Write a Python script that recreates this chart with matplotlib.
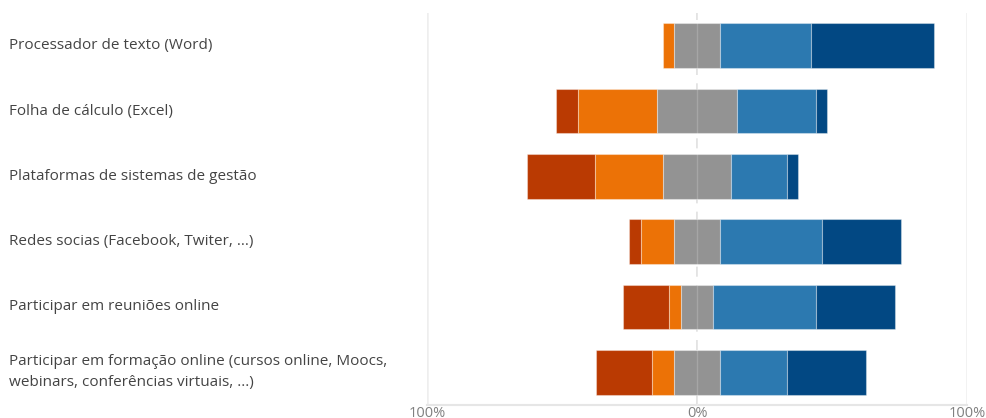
import numpy as np
import matplotlib.pyplot as plt
import matplotlib.transforms as mtransforms

plt.rcParams['font.family'] = ['Open Sans', 'DejaVu Sans']

# Categorias (de cima para baixo)
categorias = [
    'Processador de texto (Word)',
    'Folha de cálculo (Excel)',
    'Plataformas de sistemas de gestão',
    'Redes socias (Facebook, Twiter, ...)',
    'Participar em reuniões online',
    'Participar em formação online (cursos online, Moocs,\nwebinars, conferências virtuais, ...)',
]

# Percentagens por nível
muito_neg = [0.0, 8.3, 25.2, 4.6, 16.8, 20.7]
neg = [3.9, 29.3, 25.0, 12.0, 4.4, 7.9]
neutro = [17.3, 29.4, 25.4, 17.3, 12.2, 17.3]
pos = [33.4, 29.3, 20.6, 37.7, 38.0, 24.8]
muito_pos = [45.6, 4.1, 4.1, 29.1, 29.3, 29.3]

cores = ['#BA3A02', '#EC7206', '#939393', '#2C79B0', '#024883']
tick_labels = ['100%', '0%', '100%']

fig = plt.figure(figsize=(9.87, 4.18), dpi=100)
ax = fig.add_axes([427 / 987, (418 - 405) / 418, 540 / 987, 392 / 418])

y = np.arange(len(categorias))
mn = np.array(muito_neg)
ng = np.array(neg)
nt = np.array(neutro)
ps = np.array(pos)
mp = np.array(muito_pos)

inicio = -(mn + ng + nt / 2)
series = [mn, ng, nt, ps, mp]
esq = inicio.copy()
for vals, cor in zip(series, cores):
    ax.barh(y, vals, left=esq, height=0.68, color=cor,
            edgecolor=(1, 1, 1, 0.35), linewidth=0.8, zorder=3)
    esq = esq + vals

# linhas de grelha
ax.axvline(0, color='#dddddd', linestyle=(0, (6, 5)), linewidth=1.2, zorder=2)
ax.axvline(0, color=(1, 1, 1, 0.18), linewidth=1.0, zorder=4)
ax.axvline(-100, color='#eeeeee', linewidth=1.8, zorder=1)
ax.axvline(100, color='#eeeeee', linewidth=1.8, zorder=1)

ax.set_xlim(-100, 100)
ax.set_ylim(len(categorias) - 0.5, -0.5)

for s in ['top', 'right', 'left']:
    ax.spines[s].set_visible(False)
ax.spines['bottom'].set_color('#e6e6e6')
ax.spines['bottom'].set_linewidth(1.5)

ax.set_yticks([])
ax.set_xticks([-100, 0, 100])
ax.set_xticklabels(tick_labels, fontsize=10.5, color='#808080')
ax.tick_params(axis='x', length=0, pad=0.5)

trans = mtransforms.blended_transform_factory(ax.transAxes, ax.transData)
for i, cat in enumerate(categorias):
    ax.text((9 - 427) / 540, i, cat, transform=trans, ha='left', va='center',
            fontsize=11, color='#444444', linespacing=1.55)

fig.savefig('out.png', dpi=100)
